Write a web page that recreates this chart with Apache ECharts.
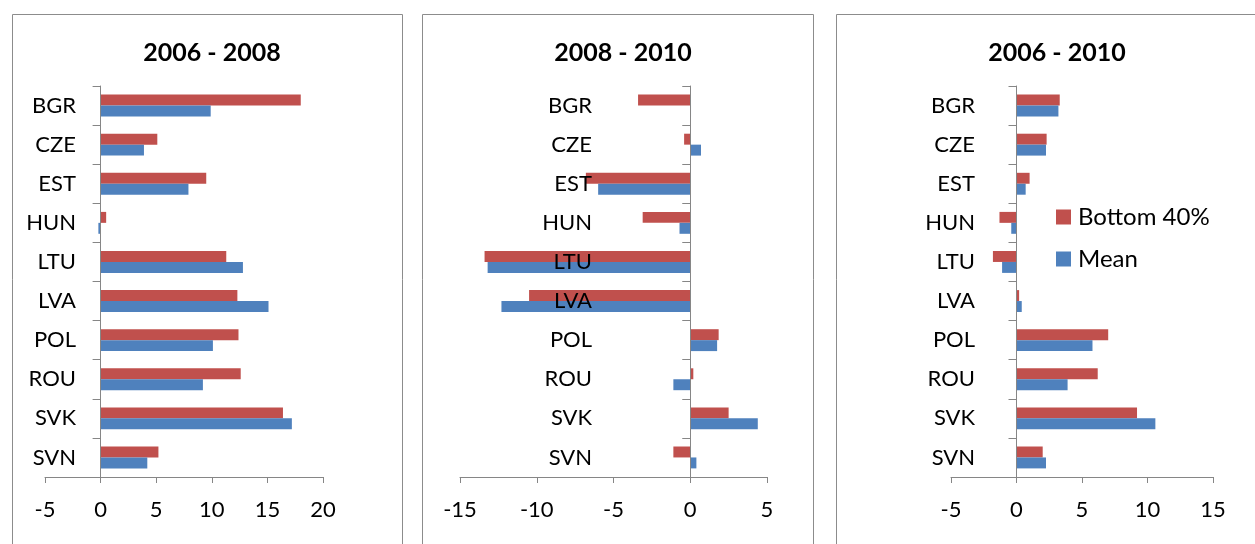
<!DOCTYPE html>
<html>
<head>
<meta charset="utf-8">
<script src="https://cdn.jsdelivr.net/npm/echarts@6/dist/echarts.min.js"></script>
<style>
  html, body { margin: 0; padding: 0; background: #fff; }
  #chart { width: 1255px; height: 544px; }
</style>
</head>
<body>
<div id="chart"></div>
<script>
const categories = ['BGR', 'CZE', 'EST', 'HUN', 'LTU', 'LVA', 'POL', 'ROU', 'SVK', 'SVN'];
const panelTitles = ['2006 - 2008', '2008 - 2010', '2006 - 2010'];
const seriesNames = ['Bottom 40%', 'Mean'];

// values per period
const bottom0608 = [18.0, 5.1, 9.5, 0.5, 11.3, 12.3, 12.4, 12.6, 16.4, 5.2];
const mean0608 = [9.9, 3.9, 7.9, -0.2, 12.8, 15.1, 10.1, 9.2, 17.2, 4.2];
const bottom0810 = [-3.4, -0.4, -6.8, -3.1, -13.4, -10.5, 1.85, 0.2, 2.5, -1.1];
const mean0810 = [0.05, 0.7, -6.0, -0.7, -13.2, -12.3, 1.75, -1.1, 4.4, 0.4];
const bottom0610 = [3.3, 2.3, 1.0, -1.3, -1.8, 0.2, 7.0, 6.2, 9.2, 2.0];
const mean0610 = [3.2, 2.25, 0.7, -0.4, -1.1, 0.4, 5.8, 3.9, 10.6, 2.25];

// x axis ranges / ticks
const xMins = [-5, -15, -5];
const xMaxs = [20, 5, 15];
const xInterval = 5;

const colors = ['#c0504d', '#4f81bd'];
const axisGray = '#868686';
const fontFamily = 'Lato, sans-serif';

const grids = [
  { left: 45, top: 86, width: 278, height: 391, outerBoundsMode: 'none' },
  { left: 460, top: 86, width: 307, height: 391, outerBoundsMode: 'none' },
  { left: 951, top: 86, width: 262, height: 391, outerBoundsMode: 'none' }
];
// category labels sit inside the plot, as in the original
const yLabelMargins = [-31, -132, -24];
const titleCenters = [207, 618, 1052];
const panelBoxes = [
  { x: 12.5, y: 14.5, width: 390, height: 560 },
  { x: 422.5, y: 14.5, width: 391, height: 560 },
  { x: 836.5, y: 14.5, width: 460, height: 560 }
];

const data = [
  [bottom0608, mean0608],
  [bottom0810, mean0810],
  [bottom0610, mean0610]
];

const chart = echarts.init(document.getElementById('chart'));

const series = [];
data.forEach((pair, i) => {
  pair.forEach((values, j) => {
    series.push({
      name: seriesNames[j],
      type: 'bar',
      xAxisIndex: i,
      yAxisIndex: i,
      barGap: '0%',
      barCategoryGap: '44%',
      itemStyle: { color: colors[j] },
      data: values,
      z: 1,
      animation: false
    });
  });
});

chart.setOption({
  color: colors,
  textStyle: { fontFamily },
  title: panelTitles.map((t, i) => ({
    text: t,
    left: titleCenters[i],
    top: 35,
    textAlign: 'center',
    textStyle: { fontFamily, fontSize: 25, fontWeight: 'bold', color: '#000' }
  })),
  legend: {
    orient: 'vertical',
    left: 1056,
    top: 205,
    padding: 0,
    itemWidth: 15,
    itemHeight: 15,
    itemGap: 18,
    icon: 'rect',
    textStyle: { fontFamily, fontSize: 24, color: '#000', padding: [0, 0, 0, 2] },
    data: seriesNames
  },
  graphic: panelBoxes.map(b => ({
    type: 'rect',
    shape: b,
    silent: true,
    style: { fill: 'none', stroke: '#8c8c8c', lineWidth: 1 }
  })),
  grid: grids,
  xAxis: grids.map((g, i) => ({
    type: 'value',
    gridIndex: i,
    min: xMins[i],
    max: xMaxs[i],
    interval: xInterval,
    splitLine: { show: false },
    axisLine: { show: true, onZero: false, lineStyle: { color: axisGray } },
    axisTick: { show: true, length: 6, lineStyle: { color: axisGray } },
    axisLabel: { color: '#000', fontSize: 22, margin: 22, fontFamily }
  })),
  yAxis: grids.map((g, i) => ({
    type: 'category',
    gridIndex: i,
    inverse: true,
    data: categories,
    z: 5,
    axisLine: { show: true, onZero: true, lineStyle: { color: axisGray } },
    axisTick: { show: true, length: 8, lineStyle: { color: axisGray } },
    axisLabel: { color: '#000', fontSize: 22, margin: yLabelMargins[i], fontFamily }
  })),
  series
});
</script>
</body>
</html>
